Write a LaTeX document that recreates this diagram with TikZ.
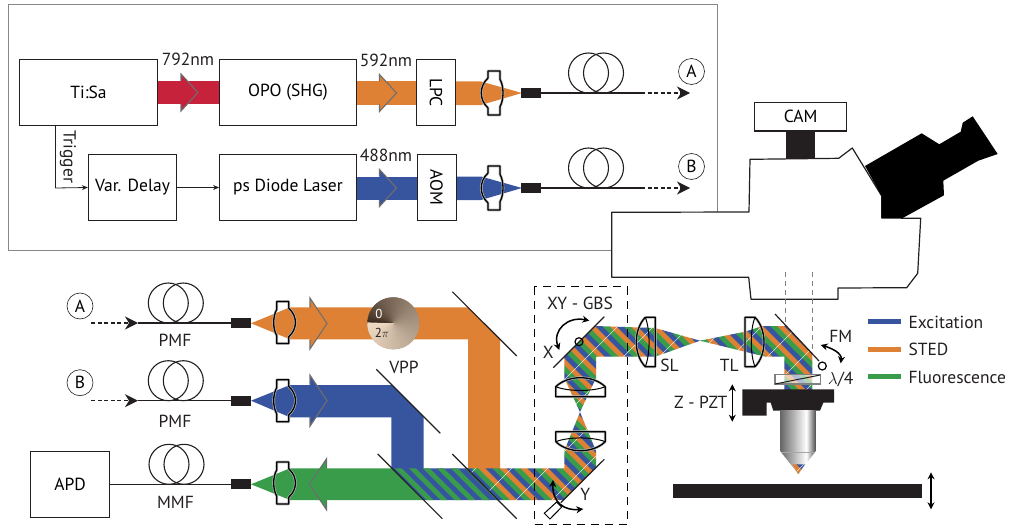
\documentclass[tikz,border=0pt]{standalone}
\usepackage{fontspec}
\setmainfont{PT Sans}
\definecolor{beamred}{RGB}{198,34,59}
\definecolor{beamorange}{RGB}{222,129,52}
\definecolor{beamblue}{RGB}{55,85,159}
\definecolor{beamgreen}{RGB}{57,156,74}
\definecolor{chevgray}{RGB}{110,110,110}
\definecolor{framegray}{RGB}{135,135,135}
\definecolor{inkdark}{RGB}{35,31,32}
\definecolor{vppdark}{RGB}{58,40,28}
\definecolor{vpplight}{RGB}{240,220,196}
\definecolor{objdark}{RGB}{105,105,105}
\definecolor{objmid}{RGB}{185,185,185}
\definecolor{objedge}{RGB}{85,85,85}
\pgfdeclarehorizontalshading{objshade}{100bp}{color(0bp)=(objdark); color(25bp)=(objdark); color(45bp)=(objmid); color(62bp)=(white); color(75bp)=(objedge); color(100bp)=(objedge)}
\usetikzlibrary{arrows.meta,positioning,calc}
\tikzset{
  device/.style={draw=inkdark, line width=0.8pt, fill=white, inner sep=0pt},
  coupler/.style={fill=inkdark, minimum width=20pt, minimum height=10pt, inner sep=0pt},
  fiber/.style={draw=inkdark, line width=1.3pt},
  fiberdash/.style={draw=inkdark, line width=1.3pt, dash pattern=on 4pt off 2.5pt, -{Stealth[length=13pt,width=13pt,inset=4pt]}},
  coilring/.style={draw=inkdark, line width=1.1pt},
  portlabel/.style={circle, draw=inkdark, line width=0.6pt, minimum size=26pt, inner sep=0pt},
  signal/.style={draw=inkdark, line width=0.8pt, -{Stealth[length=6pt,width=5pt]}},
  mirrorline/.style={draw=inkdark, line width=1.2pt},
  turnarrow/.style={draw=black, line width=1.5pt, {Stealth[length=7pt,width=7pt]}-{Stealth[length=7pt,width=7pt]}},
  legendbar/.style={minimum width=33pt, minimum height=5pt, inner sep=0pt},
  txt/.style={inner sep=0pt, text=inkdark},
}
% flanged lens, convex front towards local -x
\newcommand{\opticlens}[3]{%
  \begin{scope}[shift={(#1)},rotate=#2]
    \foreach \w/\c in {2.6pt/gray!55,1.3pt/black}{
      \draw[line width=\w,\c,line join=round] (-12,-#3) -- (0,-#3) -- (0,{-.62*#3}) .. controls (4,{-.3*#3}) and (4,{.3*#3}) .. (0,{.62*#3}) -- (0,#3) -- (-12,#3) -- (-12,{.68*#3})
        .. controls (-21,{.3*#3}) and (-21,{-.3*#3}) .. (-12,{-.68*#3}) -- cycle;
    }
  \end{scope}}
% plano-convex lens, flat back at the origin
\newcommand{\planolens}[3]{%
  \begin{scope}[shift={(#1)},rotate=#2]
    \foreach \w/\c in {2.6pt/gray!55,1.3pt/black}{
      \draw[line width=\w,\c,line join=round] (-10,-#3) -- (0,-#3) -- (0,#3) -- (-10,#3)
        .. controls (-22,{#3/2}) and (-22,{-#3/2}) .. (-10,-#3);
    }
    \draw[line width=1pt,black] (-10,-#3) .. controls (-5,{-#3/2}) and (-5,{#3/2}) .. (-10,#3);
  \end{scope}}
% arrow head sitting on a beam
\newcommand{\chevron}[5]{%
  \begin{scope}[shift={(#1)},rotate=#2]
    \fill[#3] (0,-#4) -- (17,0) -- (0,#4) -- cycle;
    \draw[chevgray,line width=1.1pt,line join=miter] (0,-#5) -- (0,-#4) -- (17,0) -- (0,#4) -- (0,#5);
  \end{scope}}
% three colour stripes inside a closed path
\newcommand{\tristripes}[1]{%
  \begin{scope}
    \clip #1;
    \foreach \s in {-63,-42,...,525}{
      \draw[beamblue,line width=5.6pt] (\s,0) -- ({\s+560},560);
      \draw[beamgreen,line width=5.6pt] ({\s+7},0) -- ({\s+567},560);
      \draw[beamorange,line width=5.6pt] ({\s+14},0) -- ({\s+574},560);
    }
    \foreach \s in {800,836,...,1300}{
      \draw[white,line width=0.35pt] (\s,0) -- ({\s-560},560);
    }
  \end{scope}}
\newcommand{\duostripes}[1]{%
  \begin{scope}
    \clip #1;
    \fill[beamblue] (380,460) rectangle (510,510);
    \foreach \s in {320,334,...,520}{
      \draw[beamgreen,line width=4.6pt] (\s,460) -- ({\s+50},510);
    }
  \end{scope}}
\begin{document}
\begin{tikzpicture}[x=1pt,y=-1pt,every node/.style={font=\fontsize{17.5}{20}\selectfont}]
\useasboundingbox (0,0) rectangle (1010,527);
% Laser frame
\draw[framegray,line width=0.8pt] (8.5,4.5) rectangle (717,250);
% Laser beams
\fill[beamred] (157,81) rectangle (220,104);
\fill[beamorange] (356,81.5) rectangle (417,105);
\fill[beamorange] (455,81.5) -- (481,81.5) -- (522,93) -- (481,105) -- (455,105) -- cycle;
\fill[beamblue] (356,176.5) rectangle (417,200);
\fill[beamblue] (455,176.5) -- (481,176.5) -- (522,188) -- (481,200) -- (455,200) -- cycle;
\chevron{181,92.5}{0}{beamred}{18.5}{11.5}
\chevron{379.5,93}{0}{beamorange}{18.5}{11.5}
\chevron{379.5,188}{0}{beamblue}{18.5}{11.5}
% Laser boxes
\node[device, minimum width=137.5pt, minimum height=66.5pt] (tisa) at (88.5,92.5) {Ti:Sa};
\node[device, minimum width=137pt, minimum height=66.5pt] (opo) at (288,92.5) {OPO (SHG)};
\node[device, minimum width=39pt, minimum height=66.5pt] (lpc) at (436,92.5) {\rotatebox{-90}{LPC}};
\node[device, minimum width=88.5pt, minimum height=66.5pt] (delay) at (132.5,187.5) {Var. Delay};
\node[device, minimum width=137pt, minimum height=66.5pt] (diode) at (288,187.5) {ps Diode Laser};
\node[device, minimum width=39pt, minimum height=66.5pt] (aom) at (436.5,187.5) {\rotatebox{-90}{AOM}};
\node[txt] (lam792) at (188,59) {792nm};
\node[txt] (lam592) at (386,60) {592nm};
\node[txt] (lam488) at (386,155) {488nm};
\coordinate (trigup) at (55.5,126);
\coordinate (trigdn) at (55.5,188);
\draw[signal] (trigup) -- (trigdn) -- (delay.west);
\draw[signal] (delay) -- (diode);
\node[txt, rotate=-90] (trigger) at (68,157) {Trigger};
\opticlens{500,93}{0}{22}
\opticlens{500,188}{0}{22}
% Fibres out of the laser frame
\foreach \nm/\yy/\lab in {A/93/A,B/188/B}{
  \node[coupler] (cpl\nm) at (531,\yy) {};
  \draw[coilring] (588.5,\yy-20) circle (20pt);
  \draw[coilring] (603.5,\yy-20) circle (20pt);
  \coordinate (end\nm) at (641,\yy);
  \coordinate (out\nm) at (690,\yy);
  \draw[fiber] (cpl\nm) -- (end\nm);
  \draw[fiberdash] (end\nm) -- (out\nm);
  \node[portlabel] (port\nm) at (691.5,\yy-21.5) {\lab};
}
% Microscope body
\draw[line width=1.2pt,draw=inkdark,fill=white,line join=round] (611.7,212.3) -- (749,212) -- (750,159.3) -- (838.7,158.3) -- (852.3,148) -- (881.7,196) -- (881.7,218) -- (920.7,218.3) -- (917.7,273.3) -- (906.7,287.7) -- (838,288) -- (838,299.3) -- (751,299.3) -- (748.7,277.3) -- (611.7,277.3) -- cycle;
\fill[black] (865,166) -- (921.7,133.3) -- (939.3,144.3) -- (960.7,131.7) -- (962.7,122.7) -- (972.7,116.3) -- (997.7,154) -- (978.3,160.7) -- (943.3,180.7) -- (944,195.3) -- (902.7,218) -- (881.7,218) -- (881.7,196) -- cycle;
\node[device, line width=1.2pt, minimum width=92pt, minimum height=28.5pt] (cam) at (800.7,116.8) {CAM};
\fill[inkdark] (786,131) rectangle (815.3,159);
\draw[gray,line width=0.9pt,dash pattern=on 5pt off 4pt] (785.7,272) -- (785.7,327);
\draw[gray,line width=0.9pt,dash pattern=on 5pt off 4pt] (812.3,272) -- (812.3,353);
% Beams on the table
\fill[beamorange] (251,323.3) -- (290,307.3) -- (468,307.3) -- (500,339.4) -- (500,469) -- (468,469) -- (468,339.3) -- (290,339.3) -- cycle;
\fill[beamblue] (251,400.7) -- (290,385) -- (392,385) -- (423.7,416.7) -- (423.7,469) -- (391.3,469) -- (391.3,417.3) -- (290,417.3) -- cycle;
\fill[beamgreen] (251,484.3) -- (290,468.3) -- (392,468.3) -- (423.7,500) -- (290,500) -- cycle;
\duostripes{(392,468.3) -- (466.6,468.3) -- (498.3,500) -- (423.7,500) -- cycle}
\tristripes{(466.6,468.3) -- (564.3,468.3) -- (564.3,451) -- (580,412) -- (596,451) -- (596,467.6) -- (563.6,500) -- (498.3,500) -- cycle}
\tristripes{(580,412) -- (564.3,378) -- (564.3,356.7) -- (595,326) -- (655,328) -- (700,340.7) -- (745,331.7) -- (762,326.2) -- (786,326.2) -- (812.3,353) -- (812.3,390) -- (784.3,390) -- (784.3,356.5) -- (765,356.5) -- (745,351.7) -- (700,340.7) -- (655,356.7) -- (596,356.7) -- (596,378) -- cycle}
\chevron{310,323.5}{0}{beamorange}{25.5}{16}
\chevron{310,400.7}{0}{beamblue}{25.5}{16}
\chevron{326.5,484.3}{180}{beamgreen}{25.5}{16}
% Vortex phase plate
\fill[vpplight!50!vppdark] (393.3,323.3) circle (26pt);
\foreach \a in {180,186,...,534}{
  \pgfmathsetmacro{\m}{pow((\a-180)/360,0.7)*100}
  \fill[vpplight!\m!vppdark] (393.3,323.3) -- ++(\a:26) -- ($(393.3,323.3)+({\a+8}:26)$) -- cycle;
}
\node[txt, font=\fontsize{13}{15}\selectfont, text=white] (vppzero) at (379,313.5) {0};
\node[txt, font=\fontsize{13}{15}\selectfont] (vpptwo) at (382,333) {2$\pi$};
\node[txt] (vpp) at (404,367) {VPP};
% Lenses
\opticlens{276.7,322.5}{180}{21}
\opticlens{276.7,400.7}{180}{21}
\opticlens{276.7,483}{180}{21}
\planolens{655.3,342}{0}{24.7}
\planolens{745,342}{180}{24.7}
\planolens{580.5,396.7}{-90}{24.7}
\planolens{580.5,431.7}{90}{24.7}
% Mirrors
\draw[mirrorline] (452.3,291.7) -- (516.7,356);
\draw[mirrorline] (376.3,369.3) -- (440.3,433.3);
\draw[mirrorline] (377.7,454) -- (442.3,518.7);
\draw[mirrorline] (452.3,454) -- (516.7,518.7);
\draw[mirrorline] (604.3,316.7) -- (553.3,367.7);
\draw[mirrorline] (604.3,459.3) -- (560.7,502.7);
\draw[mirrorline] (775,314) -- (819,361);
% Scan box
\draw[black,line width=1pt,dash pattern=on 8pt off 6pt] (534,286.7) rectangle (627.3,524);
\node[txt] (gbs) at (580,303.3) {XY - GBS};
\node[txt] (xlab) at (548.3,352.7) {X};
\node[txt] (ylab) at (585.3,494) {Y};
\coordinate (xa) at (589.3,320.7);
\coordinate (xb) at (559.3,350);
\draw[turnarrow] (xa) .. controls (568,316) and (552,330) .. (xb);
\coordinate (ya) at (553,480);
\coordinate (yb) at (583.3,509);
\draw[turnarrow] (ya) .. controls (552,503) and (565,511) .. (yb);
\draw[black,line width=1.2pt] (579,341.7) circle (4pt);
\draw[black,line width=1pt,fill=white] (544.3,513.3) -- (556.7,502) -- (561.7,507) -- (550,519) -- cycle;
% Fibres on the table
\foreach \nm/\yy/\lab/\lbl/\lby/\py in {C/323/A/PMF/340/306,D/400.7/B/PMF/421/382.7}{
  \node[coupler] (cpl\nm) at (240.7,\yy) {};
  \draw[coilring] (168.3,\yy-20) circle (20pt);
  \draw[coilring] (183.3,\yy-20) circle (20pt);
  \coordinate (in\nm) at (91,\yy);
  \coordinate (tip\nm) at (138,\yy);
  \draw[fiberdash] (in\nm) -- (tip\nm);
  \draw[fiber] (tip\nm) -- (cpl\nm);
  \node[portlabel] (port\nm) at (80,\py) {\lab};
  \node[txt] (fib\nm) at (175,\lby) {\lbl};
}
\node[device, minimum width=79.5pt, minimum height=66.7pt] (apd) at (70,484.3) {APD};
\node[coupler] (cplE) at (240.7,484.3) {};
\draw[fiber] (apd) -- (cplE);
\draw[coilring] (169,464.3) circle (20pt);
\draw[coilring] (184,464.3) circle (20pt);
\node[txt] (mmf) at (175.5,502) {MMF};
% Objective side
\node[txt] (sl) at (669.5,365.5) {SL};
\node[txt] (tl) at (729.3,365.7) {TL};
\draw[draw=gray,line width=1.2pt,fill=white,fill opacity=0.6] (775,374.3) rectangle (820.3,384);
\draw[inkdark,line width=1pt] (775,384) -- (820.3,375);
\draw[black,line width=1.2pt] (822.3,366) circle (4pt);
\coordinate (fma) at (820.7,345);
\coordinate (fmb) at (840.7,363.3);
\draw[turnarrow] (fma) .. controls (831,348) and (842,353) .. (fmb);
\node[txt] (fm) at (840.7,336) {FM};
\node[txt] (quarter) at (840.7,379.3) {$\lambda$/4};
\fill[inkdark] (742.3,389.3) -- (834,389.3) -- (834,402.7) -- (823.3,402.7) -- (820,410.7) -- (773.3,410.7) -- (770.7,402.7) -- (766.7,402.7) -- (766.7,415.7) -- (742.3,415.7) -- cycle;
\shade[shading=objshade] (780.7,410.7) rectangle (815.3,451.7);
\shade[shading=objshade] (780.7,451.7) -- (815.3,451.7) -- (798.3,474) -- cycle;
\draw[gray!70,line width=0.4pt] (780.7,451.7) -- (815.3,451.7);
\tristripes{(792.3,464.3) -- (805,464.3) -- (798.3,474) -- cycle}
\node[txt] (zpzt) at (700.7,402.7) {Z - PZT};
\coordinate (za) at (732.3,384.3);
\coordinate (zb) at (732.3,421.7);
\draw[turnarrow] (za) -- (zb);
\fill[inkdark] (672.7,484.3) rectangle (922,498.3);
\coordinate (sa) at (931,472.3);
\coordinate (sb) at (931,509.3);
\draw[turnarrow] (sa) -- (sb);
% Legend
\node[legendbar, fill=beamblue] (barexc) at (884.3,321.3) {};
\node[legendbar, fill=beamorange] (barsted) at (884.3,349.3) {};
\node[legendbar, fill=beamgreen] (barfluo) at (884.3,376.7) {};
\node[txt, anchor=west] (labexc) at (908.3,322) {Excitation};
\node[txt, anchor=west] (labsted) at (908.3,349.5) {STED};
\node[txt, anchor=west] (labfluo) at (908.3,377) {Fluorescence};
\end{tikzpicture}
\end{document}
